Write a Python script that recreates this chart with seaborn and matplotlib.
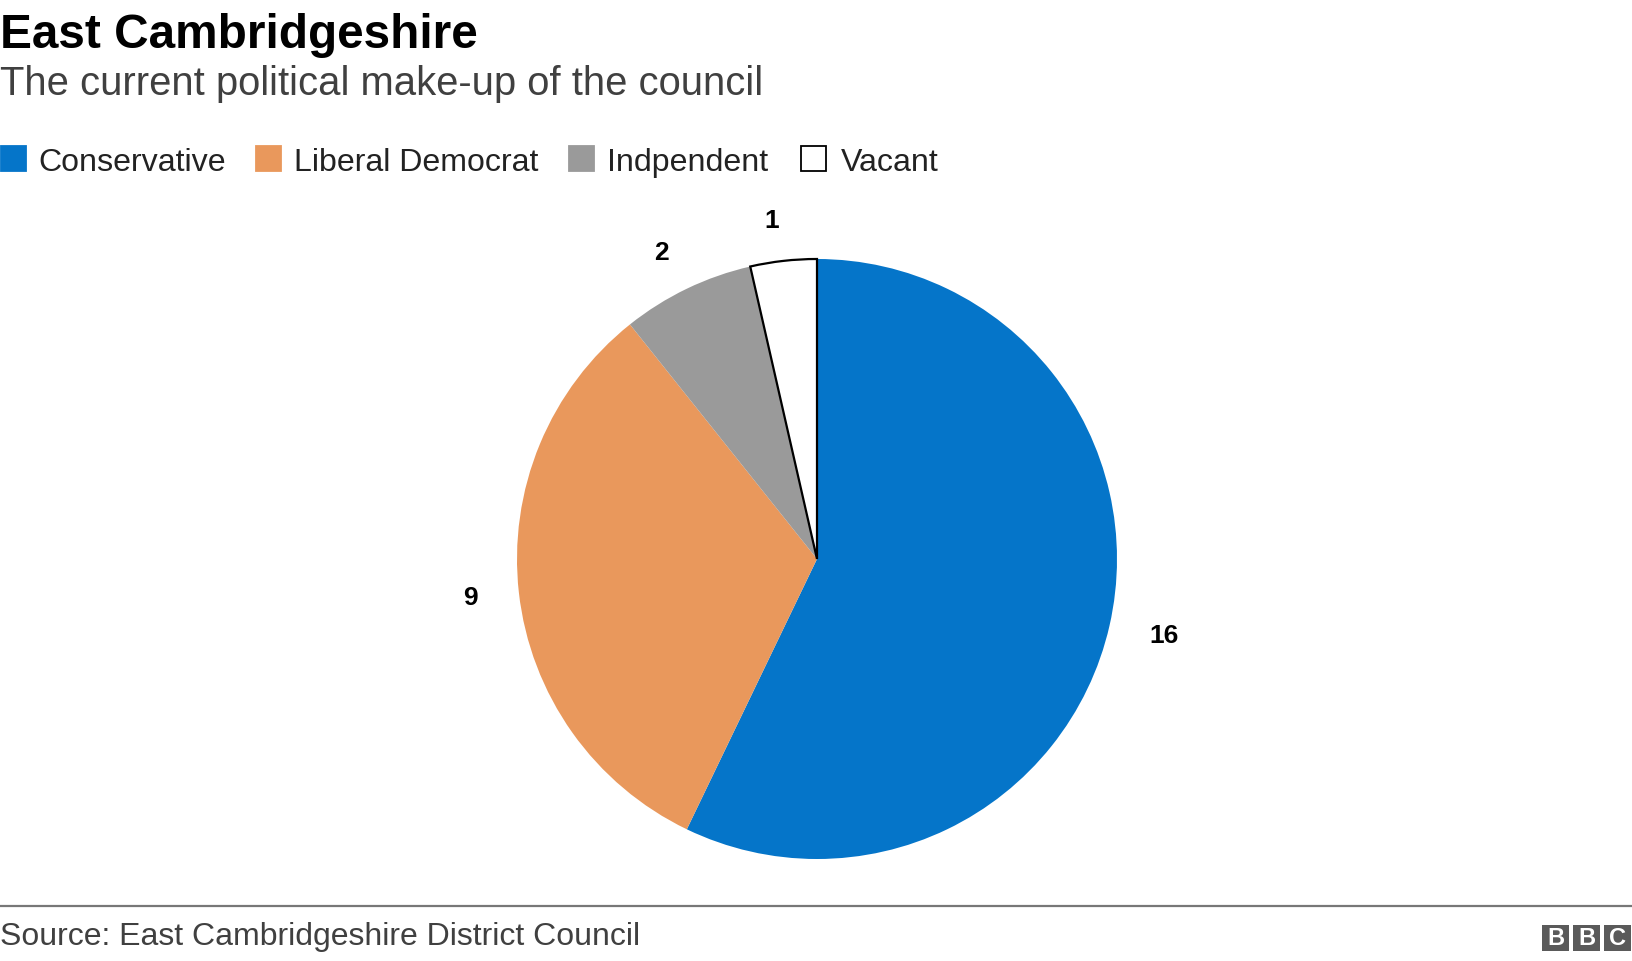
import matplotlib
matplotlib.use("Agg")
import matplotlib.pyplot as plt
from matplotlib.patches import Rectangle
from matplotlib.lines import Line2D
import seaborn as sns

# Data
parties = ["Conservative", "Liberal Democrat", "Indpendent", "Vacant"]
seats = [16, 9, 2, 1]
colours = ["#0575c9", "#e9985c", "#9a9a9a", "#ffffff"]

title = "East Cambridgeshire"
subtitle = "The current political make-up of the council"
source = "Source: East Cambridgeshire District Council"

# Style
sns.set_theme(style="white")
plt.rcParams["font.family"] = ["Liberation Sans", "DejaVu Sans"]

W, H = 1632, 962
fig = plt.figure(figsize=(W / 100, H / 100), dpi=100)
fig.patch.set_facecolor("white")


def fx(x):
    return x / W


def fy(y):
    # y measured in pixels from the top
    return 1 - y / H


# Header
fig.text(fx(0), fy(48), title, fontsize=34.4, fontweight="bold", color="#000000", va="baseline", ha="left")
fig.text(fx(0), fy(95), subtitle, fontsize=28.8, color="#404040", va="baseline", ha="left")

# Legend
square_x = [0, 255, 568, 800]
text_x = [38, 294, 607, 841]
for sx, tx, name, col in zip(square_x, text_x, parties, colours):
    edge = "#000000" if col == "#ffffff" else col
    fig.add_artist(Rectangle((fx(sx + 1), fy(172)), fx(25), 25 / H, transform=fig.transFigure,
                             facecolor=col, edgecolor=edge, linewidth=1.3))
    fig.text(fx(tx), fy(171), name, fontsize=23.1, color="#222222", va="baseline", ha="left")

# Pie
cx, cy, r = 817, 560, 300
ax = fig.add_axes([fx(cx - r), fy(cy + r), 2 * r / W, 2 * r / H])
palette = sns.color_palette(colours)
wedges, texts = ax.pie(seats, labels=[str(s) for s in seats], labeldistance=1.137,
                       colors=palette, startangle=90, counterclock=False, radius=1,
                       wedgeprops=dict(linewidth=0),
                       textprops=dict(fontsize=19, fontweight="bold", color="#000000"))
ax.set_xlim(-1, 1)
ax.set_ylim(-1, 1)
ax.set_aspect("equal")
ax.axis("off")

# outline only the vacant wedge
wedges[-1].set_edgecolor("#000000")
wedges[-1].set_linewidth(1.6)

# Footer
fig.add_artist(Line2D([0, 1], [fy(907), fy(907)], transform=fig.transFigure, color="#777777", linewidth=1.6))
fig.text(fx(0), fy(945), source, fontsize=23, color="#404040", va="baseline", ha="left")

for x0, letter in zip([1542, 1573, 1604], "BBC"):
    fig.add_artist(Rectangle((fx(x0), fy(952)), fx(27), 26 / H, transform=fig.transFigure,
                             facecolor="#5a5a5a", edgecolor="none"))
    fig.text(fx(x0 + 13.5), fy(939), letter, fontsize=17, fontweight="bold", color="white",
             ha="center", va="center")

fig.savefig("out.png", dpi=100)
